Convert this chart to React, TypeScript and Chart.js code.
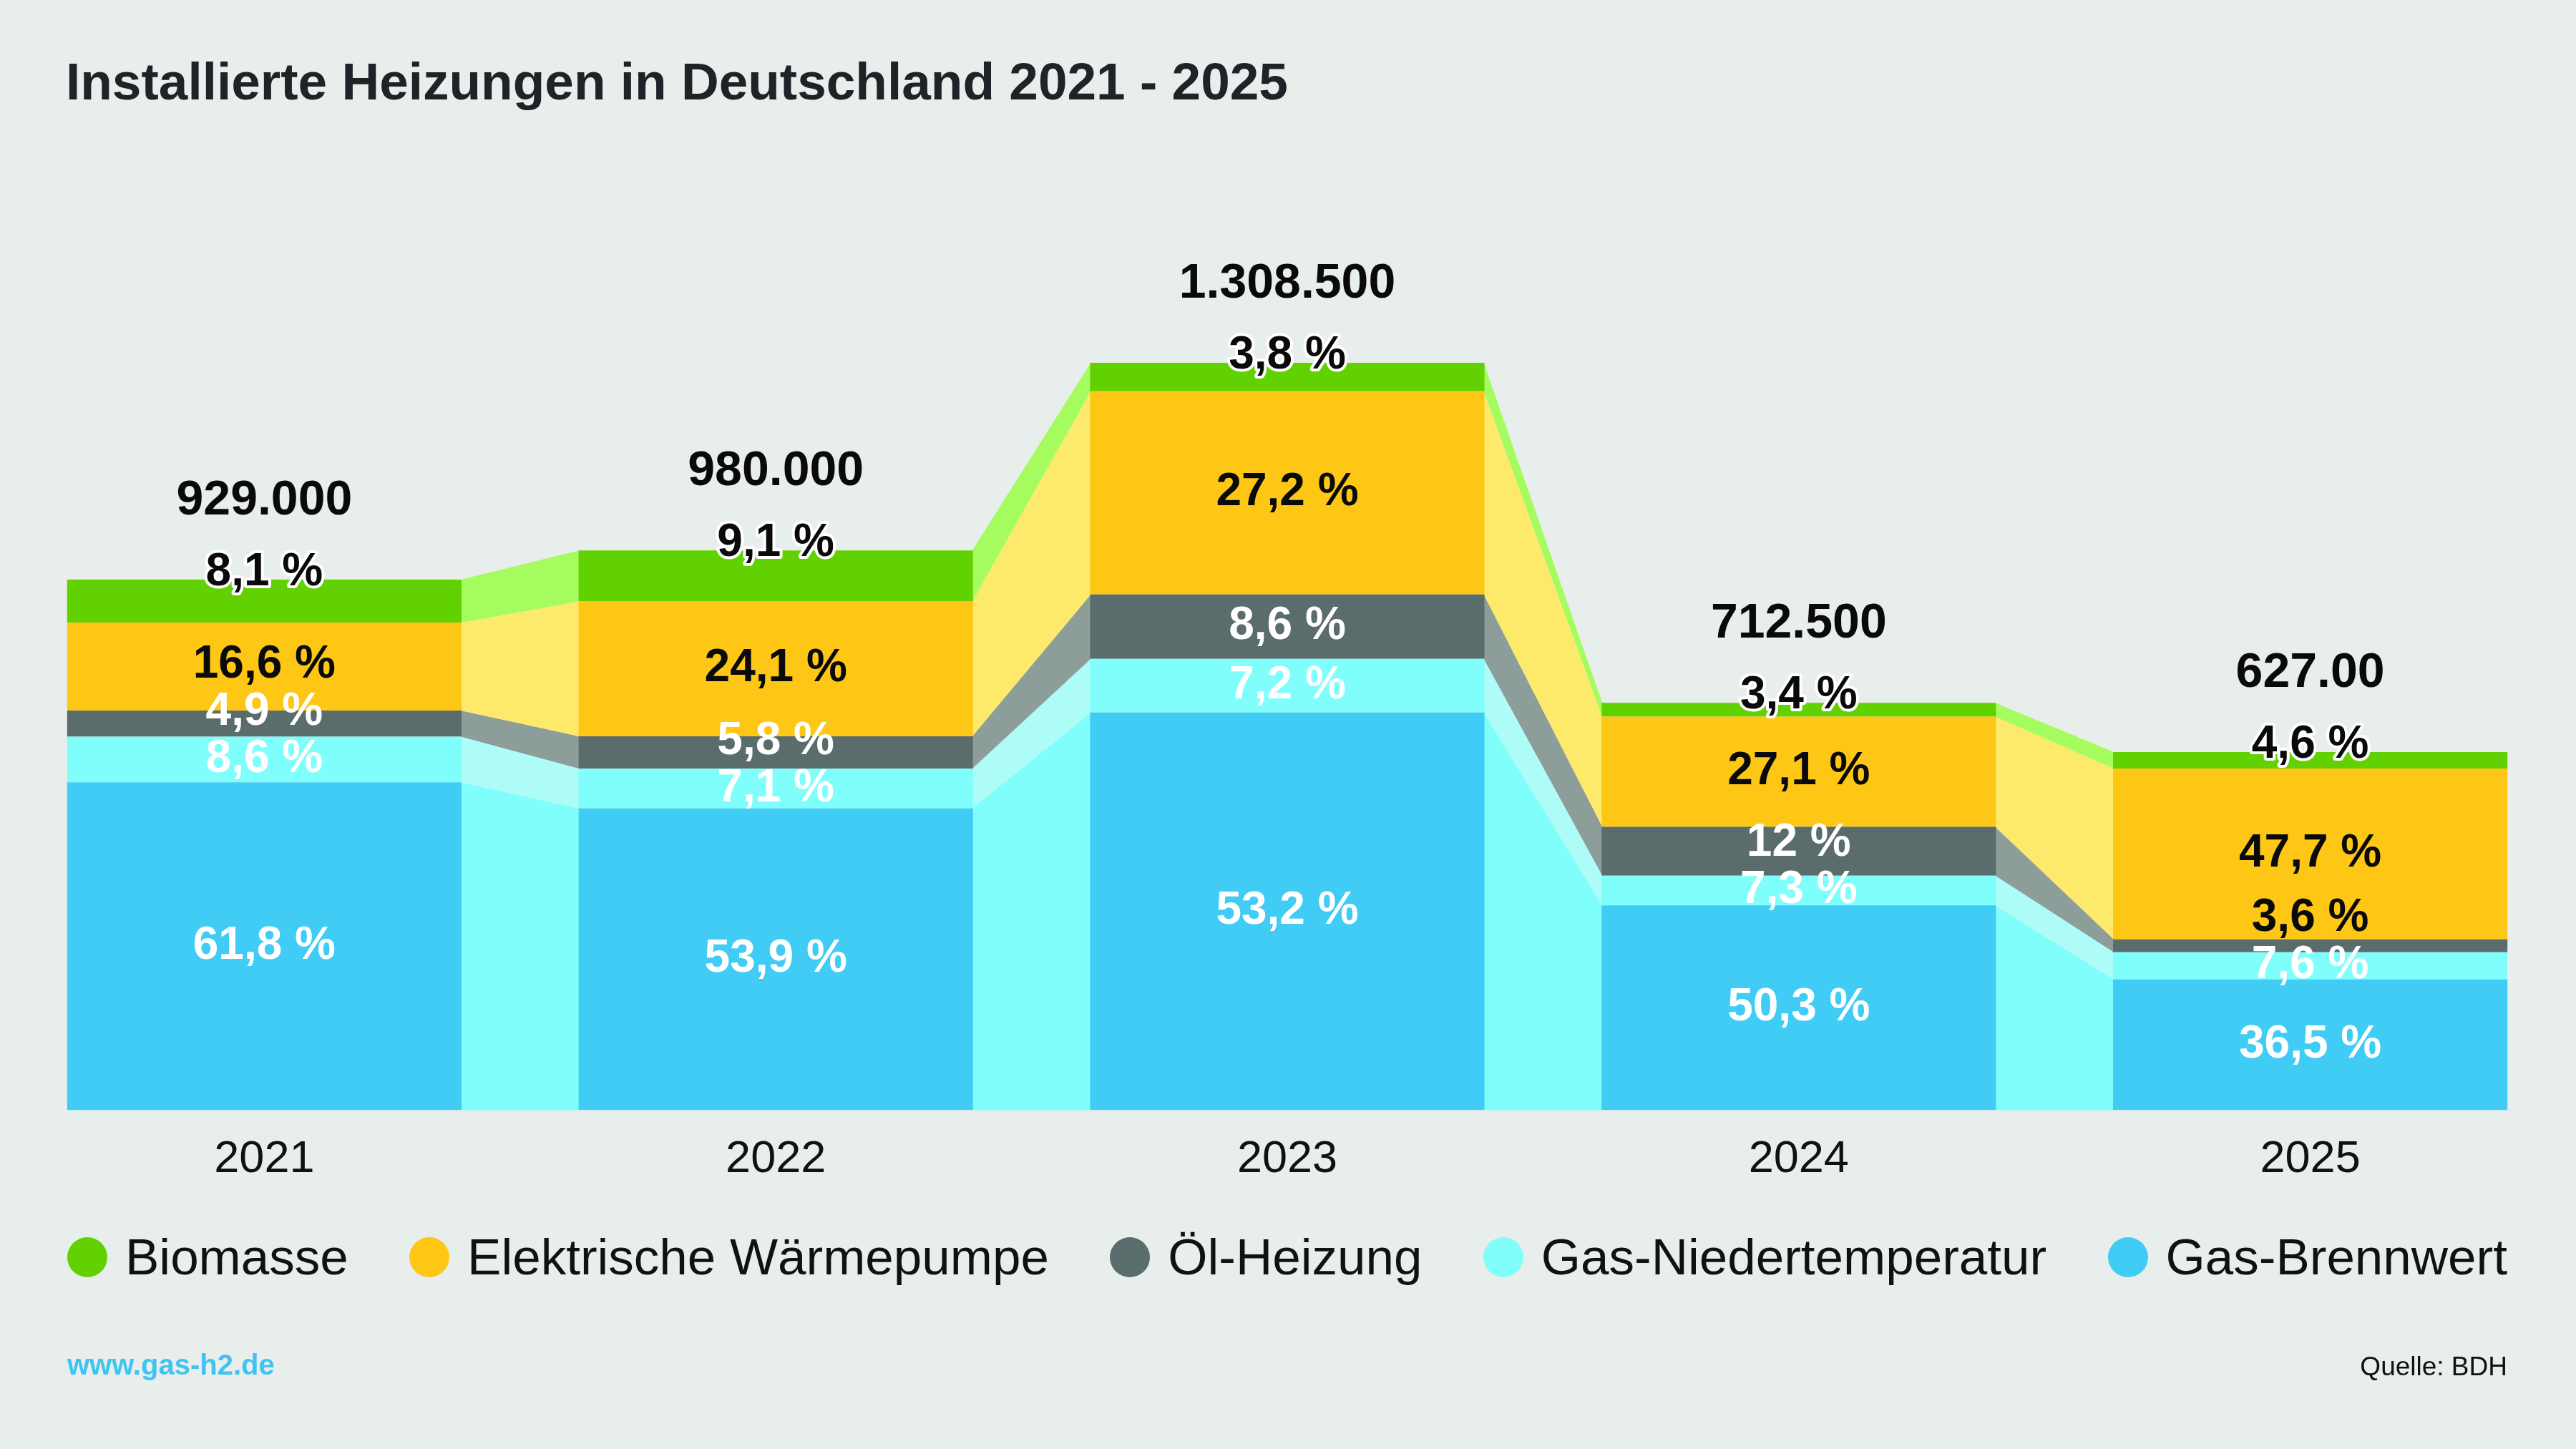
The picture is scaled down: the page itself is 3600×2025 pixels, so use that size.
import React, { useEffect, useRef } from "react";
import { Chart, registerables } from "chart.js";

Chart.register(...registerables);

// --- data (shares in % of the yearly total) ---
const years = ["2021", "2022", "2023", "2024", "2025"];
const totals = [929000, 980000, 1308500, 712500, 627000];
const totalLabels = ["929.000", "980.000", "1.308.500", "712.500", "627.00"];
const biomasse = [8.1, 9.1, 3.8, 3.4, 4.6];
const waermepumpe = [16.6, 24.1, 27.2, 27.1, 47.7];
const oelHeizung = [4.9, 5.8, 8.6, 12, 3.6];
const gasNiedertemp = [8.6, 7.1, 7.2, 7.3, 7.6];
const gasBrennwert = [61.8, 53.9, 53.2, 50.3, 36.5];

const FONT = '"Liberation Sans", Arial, Helvetica, sans-serif';
const BG = "#e8eeeb";
const LABEL_GAP = 66;

// bottom to top
const series = [
  { label: "Gas-Brennwert", shares: gasBrennwert, color: "#40ccf4", band: "#80fefc", text: "#ffffff" },
  { label: "Gas-Niedertemperatur", shares: gasNiedertemp, color: "#80fefc", band: "#aefcf8", text: "#ffffff" },
  { label: "Öl-Heizung", shares: oelHeizung, color: "#5b6c6d", band: "#8d9e9a", text: "#ffffff" },
  { label: "Elektrische Wärmepumpe", shares: waermepumpe, color: "#fec716", band: "#fde96a", text: "#0a0a0a" },
  { label: "Biomasse", shares: biomasse, color: "#62d102", band: "#a4fc5e", text: "#0a0a0a" },
];

const fmtShare = (v: number) => String(v).replace(".", ",") + " %";

// light coloured bands between neighbouring bars
const bandPlugin = {
  id: "bands",
  beforeDatasetsDraw(chart: any) {
    const ctx = chart.ctx;
    ctx.save();
    chart.data.datasets.forEach((_: any, d: number) => {
      const bars = chart.getDatasetMeta(d).data;
      for (let i = 0; i < bars.length - 1; i++) {
        const a = bars[i].getProps(["x", "y", "base", "width"], true);
        const b = bars[i + 1].getProps(["x", "y", "base", "width"], true);
        const ax = a.x + a.width / 2 - 1;
        const bx = b.x - b.width / 2 + 1;
        ctx.beginPath();
        ctx.moveTo(ax, a.y);
        ctx.lineTo(bx, b.y);
        ctx.lineTo(bx, b.base);
        ctx.lineTo(ax, a.base);
        ctx.closePath();
        ctx.fillStyle = series[d].band;
        ctx.fill();
      }
    });
    ctx.restore();
  },
};

// percentage labels inside the segments and totals on top
const labelPlugin = {
  id: "segLabels",
  afterDatasetsDraw(chart: any) {
    const ctx = chart.ctx;
    const n = chart.data.datasets.length;
    ctx.save();
    ctx.textAlign = "center";
    ctx.textBaseline = "middle";
    years.forEach((_, i) => {
      const segs = chart.data.datasets.map((__: any, d: number) =>
        chart.getDatasetMeta(d).data[i].getProps(["x", "y", "base"], true)
      );
      const x = segs[0].x;
      const top = segs[n - 1].y;
      const pos: number[] = [];
      let limit = Infinity;
      for (let d = 0; d < n - 1; d++) {
        const c = Math.min((segs[d].y + segs[d].base) / 2, limit);
        pos[d] = c;
        limit = c - LABEL_GAP;
      }
      pos[n - 1] = top - 10;

      ctx.font = `bold 64px ${FONT}`;
      for (let d = 0; d < n; d++) {
        const y = pos[d];
        let color = series[d].text;
        for (let k = 0; k < n; k++) {
          if (y >= segs[k].y && y <= segs[k].base) color = series[k].text;
        }
        if (d === n - 1) color = series[d].text;
        const txt = fmtShare(series[d].shares[i]);
        if (d === n - 1) {
          ctx.lineWidth = 8;
          ctx.lineJoin = "round";
          ctx.strokeStyle = "#ffffff";
          ctx.strokeText(txt, x, y);
        }
        ctx.fillStyle = color;
        ctx.fillText(txt, x, y);
      }

      ctx.font = `bold 68px ${FONT}`;
      ctx.fillStyle = "#0a0a0a";
      ctx.fillText(totalLabels[i], x, top - 110);
    });
    ctx.restore();
  },
};

const InstallationsChart = () => {
  const chartRef = useRef<HTMLCanvasElement | null>(null);

  useEffect(() => {
    const ctx = chartRef.current?.getContext("2d");
    if (!ctx) return;

    const chartInstance = new Chart(ctx, {
      type: "bar",
      data: {
        datasets: series.map((s) => ({
          label: s.label,
          data: s.shares.map((p, i) => ({ x: i, y: (totals[i] * p) / 100 })),
          backgroundColor: s.color,
          borderWidth: 0,
          categoryPercentage: 1,
          barPercentage: 0.771,
        })),
      },
      options: {
        responsive: false,
        animation: false,
        events: [],
        layout: { padding: { left: 12, right: 14, top: 35, bottom: 336 } },
        plugins: {
          legend: { display: false },
          tooltip: { enabled: false },
          title: { display: false },
        },
        scales: {
          x: {
            type: "linear",
            stacked: true,
            offset: false,
            min: -0.5,
            max: 4.5,
            grid: { display: false, drawTicks: false },
            border: { display: false },
            afterBuildTicks: (axis: any) => {
              axis.ticks = years.map((_, i) => ({ value: i }));
            },
            ticks: {
              padding: 31,
              maxRotation: 0,
              autoSkip: false,
              color: "#111111",
              font: { family: FONT, size: 63 },
              callback: (v: any) => years[v] ?? "",
            },
          },
          y: {
            stacked: true,
            display: false,
            min: 0,
            max: 1900000,
          },
        },
      },
      plugins: [bandPlugin, labelPlugin],
    } as any);

    return () => {
      chartInstance.destroy();
    };
  }, []);

  return <canvas ref={chartRef} width={3600} height={2025} style={{ position: "absolute", left: 0, top: 0 }} />;
};

const legendItems = [...series].reverse();

export default function App() {
  return (
    <div
      style={{
        position: "fixed",
        left: 0,
        top: 0,
        width: 3600,
        height: 2025,
        overflow: "hidden",
        background: BG,
        fontFamily: FONT,
      }}
    >
      <InstallationsChart />
      <div
        style={{
          position: "absolute",
          left: 92,
          top: 77,
          fontSize: 73,
          lineHeight: 1,
          fontWeight: "bold",
          color: "#1d2326",
          whiteSpace: "nowrap",
        }}
      >
        Installierte Heizungen in Deutschland 2021 - 2025
      </div>
      <div
        style={{
          position: "absolute",
          left: 94,
          width: 3410,
          top: 1721,
          height: 71,
          display: "flex",
          justifyContent: "space-between",
          alignItems: "center",
        }}
      >
        {legendItems.map((s) => (
          <div key={s.label} style={{ display: "flex", alignItems: "center", whiteSpace: "nowrap" }}>
            <span
              style={{
                display: "inline-block",
                width: 56,
                height: 56,
                borderRadius: "50%",
                background: s.color,
                marginRight: 25,
              }}
            />
            <span style={{ fontSize: 71, lineHeight: 1, color: "#111111" }}>{s.label}</span>
          </div>
        ))}
      </div>
      <div
        style={{
          position: "absolute",
          left: 94,
          top: 1887,
          fontSize: 40,
          lineHeight: 1,
          fontWeight: "bold",
          color: "#3fc4f2",
        }}
      >
        www.gas-h2.de
      </div>
      <div
        style={{
          position: "absolute",
          right: 96,
          top: 1891,
          fontSize: 37,
          lineHeight: 1,
          color: "#111111",
        }}
      >
        Quelle: BDH
      </div>
    </div>
  );
}
